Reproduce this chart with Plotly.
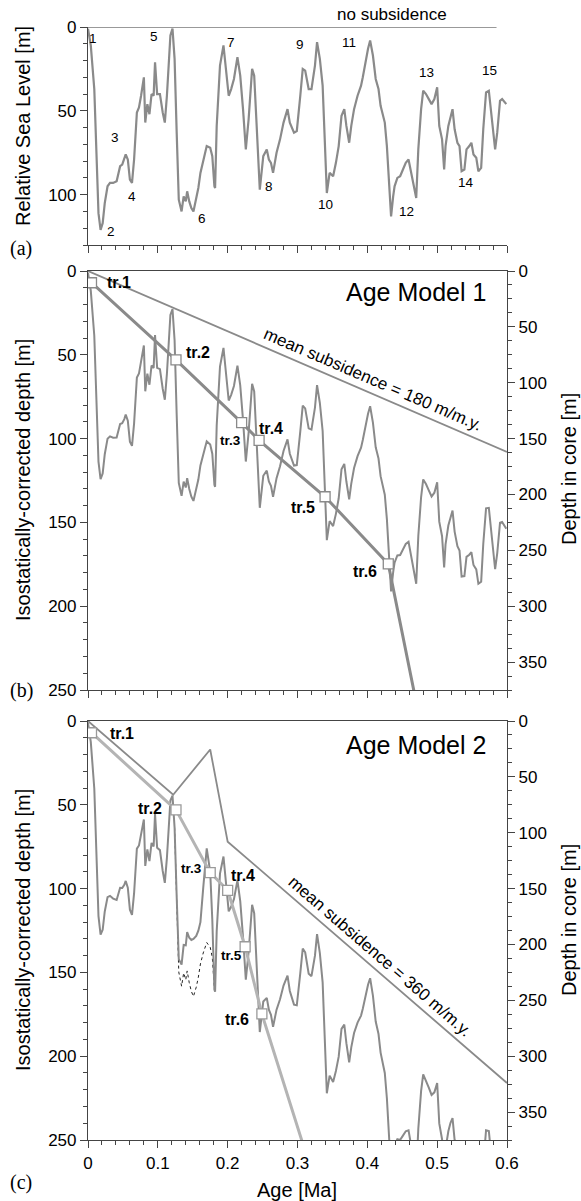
import numpy as np
import plotly.graph_objects as go

# ---------------- data ----------------
sl_age = [0, 0.004, 0.009, 0.012, 0.015, 0.018, 0.021, 0.024, 0.028, 0.0315, 0.036, 0.041, 0.044, 0.046,
          0.049, 0.052, 0.054, 0.057, 0.060, 0.063, 0.066, 0.070, 0.073, 0.076, 0.080, 0.082, 0.085, 0.088,
          0.091, 0.094, 0.096, 0.099, 0.103, 0.107, 0.110, 0.113, 0.116, 0.118, 0.121, 0.124, 0.127, 0.130,
          0.134, 0.137, 0.140, 0.142, 0.145, 0.148, 0.151, 0.155, 0.158, 0.161, 0.165, 0.170, 0.175, 0.178,
          0.181, 0.182, 0.1843, 0.189, 0.194, 0.198, 0.2015, 0.205, 0.209, 0.214, 0.218, 0.222, 0.226, 0.230,
          0.235, 0.238, 0.242, 0.246, 0.251, 0.256, 0.259, 0.262, 0.265, 0.270, 0.275, 0.280, 0.2857, 0.289,
          0.295, 0.299, 0.304, 0.3075, 0.311, 0.316, 0.320, 0.325, 0.328, 0.332, 0.336, 0.339, 0.342, 0.346,
          0.351, 0.355, 0.359, 0.363, 0.367, 0.370, 0.374, 0.377, 0.381, 0.386, 0.391, 0.3935, 0.397, 0.401,
          0.404, 0.408, 0.412, 0.416, 0.419, 0.425, 0.428, 0.431, 0.434, 0.437, 0.439, 0.443, 0.447, 0.451,
          0.455, 0.459, 0.463, 0.467, 0.470, 0.473, 0.477, 0.480, 0.484, 0.488, 0.492, 0.496, 0.500, 0.503,
          0.507, 0.510, 0.512, 0.516, 0.519, 0.522, 0.525, 0.529, 0.532, 0.535, 0.539, 0.542, 0.546, 0.549,
          0.552, 0.556, 0.559, 0.563, 0.566, 0.570, 0.574, 0.578, 0.583, 0.586, 0.590, 0.593, 0.597, 0.599]
sl_level = [1, 11, 37, 79, 111, 121, 117, 105, 95, 93, 93, 92, 87, 83,
            82, 79, 76, 79, 91, 93, 79, 51, 48, 41, 30, 57, 46, 52,
            40, 41, 21, 40, 40, 51, 57, 41, 19, 5, 1, 19, 63, 103,
            110, 101, 104, 98, 104, 108, 110, 103, 96, 87, 79, 71, 72, 77,
            95, 96, 59, 23, 11, 25, 41, 37, 31, 18, 29, 49, 73, 55,
            25, 29, 61, 97, 77, 73, 79, 81, 87, 75, 67, 57, 49, 57,
            63, 62, 41, 25, 26, 37, 37, 23, 9, 19, 35, 71, 99, 87,
            89, 81, 71, 53, 49, 59, 69, 59, 49, 41, 35, 30, 21, 13,
            8, 17, 31, 37, 47, 57, 71, 95, 113, 101, 95, 90, 89, 85,
            81, 79, 87, 95, 102, 73, 49, 38, 40, 43, 46, 43, 36, 59,
            67, 85, 71, 59, 53, 49, 61, 69, 71, 86, 85, 73, 71, 69,
            76, 78, 86, 84, 61, 39, 38, 53, 73, 63, 44, 43, 45, 46]

rate_model1 = 180.0   # m/m.y.
rate_model2 = 360.0   # m/m.y.

# subsidence path used for the age-model-2 curve
m2_sub_age = [0, 0.124, 0.142, 0.151, 0.161, 0.170, 0.175, 0.181, 0.6]
m2_sub_depth = [0, 44.6, 28, 20, 33, 5, 18, 65.2, 216]

nosub_age = [0, 0.585]
nosub_level = [0, 0]
m1_mean_age = [0, 0.6]
m1_mean_depth = [0, 108]
m2_mean_age = [0, 0.122, 0.175, 0.2, 0.6]
m2_mean_depth = [0, 44, 17, 72, 216]

tie_names = ["tr.1", "tr.2", "tr.3", "tr.4", "tr.5", "tr.6"]
tie_depth = [7, 53, 90.5, 101, 134.7, 174.8]
tie_age_m1 = [0.005, 0.126, 0.220, 0.245, 0.3395, 0.430]
tie_age_m2 = [0.005, 0.126, 0.175, 0.200, 0.225, 0.249]
m1_ext = (0.48, 278)
m2_ext = (0.32, 268.6)

peak_names = [str(i) for i in range(1, 16)]
peak_age = [0.0067, 0.033, 0.0387, 0.0626, 0.0946, 0.163, 0.2049, 0.2597, 0.3037, 0.3395, 0.3744, 0.4556, 0.4842, 0.5415, 0.575]
peak_level = [6.9, 122, 65.9, 101, 5.7, 114.3, 9.3, 95.3, 10.3, 105.9, 9, 110, 27.2, 93, 25.8]

tie_lab_m1 = [(0.045, 7, 16), (0.158, 48.7, 16), (0.2034, 101, 13.5), (0.2617, 93.9, 16), (0.3085, 141, 16), (0.3968, 179, 16)]
tie_lab_m2 = [(0.048, 7.4, 16), (0.0888, 52, 16), (0.1485, 88, 13.5), (0.2216, 92.4, 16), (0.2058, 140, 13.5), (0.214, 178.3, 16)]

# ---------------- derived ----------------
age = np.array(sl_age)
lev = np.array(sl_level)
depth_m1 = lev + rate_model1 * age
depth_m2 = lev + np.interp(age, m2_sub_age, m2_sub_depth)
mask = (age >= 0.124) & (age <= 0.181)
depth_m2_const = lev[mask] + rate_model2 * age[mask]

CURVE = "#8a8a8a"
AX = "#444444"
FONT = "Liberation Sans, Arial, sans-serif"

fig = go.Figure()
# panel a
fig.add_trace(go.Scatter(x=nosub_age, y=nosub_level, mode="lines", line=dict(color="#999999", width=2), xaxis="x", yaxis="y"))
fig.add_trace(go.Scatter(x=age, y=lev, mode="lines", line=dict(color=CURVE, width=2.2), xaxis="x", yaxis="y"))
# panel b
fig.add_trace(go.Scatter(x=m1_mean_age, y=m1_mean_depth, mode="lines", line=dict(color=CURVE, width=1.8), xaxis="x2", yaxis="y2"))
fig.add_trace(go.Scatter(x=age, y=depth_m1, mode="lines", line=dict(color=CURVE, width=2), xaxis="x2", yaxis="y2"))
fig.add_trace(go.Scatter(x=tie_age_m1 + [m1_ext[0]], y=tie_depth + [m1_ext[1]], mode="lines",
                         line=dict(color="#8a8a8a", width=3), xaxis="x2", yaxis="y2"))
fig.add_trace(go.Scatter(x=tie_age_m1, y=tie_depth, mode="markers",
                         marker=dict(symbol="square", size=10, color="white", line=dict(color="#8a8a8a", width=1.3)),
                         xaxis="x2", yaxis="y2"))
fig.add_trace(go.Scatter(x=[], y=[], xaxis="x2", yaxis="y4"))
# panel c
fig.add_trace(go.Scatter(x=m2_mean_age, y=m2_mean_depth, mode="lines", line=dict(color=CURVE, width=1.8), xaxis="x3", yaxis="y3"))
fig.add_trace(go.Scatter(x=age[mask], y=depth_m2_const, mode="lines", line=dict(color="#222222", width=1, dash="dot"), xaxis="x3", yaxis="y3"))
fig.add_trace(go.Scatter(x=age, y=depth_m2, mode="lines", line=dict(color=CURVE, width=2), xaxis="x3", yaxis="y3"))
fig.add_trace(go.Scatter(x=tie_age_m2 + [m2_ext[0]], y=tie_depth + [m2_ext[1]], mode="lines",
                         line=dict(color="#b4b4b4", width=3), xaxis="x3", yaxis="y3"))
fig.add_trace(go.Scatter(x=tie_age_m2, y=tie_depth, mode="markers",
                         marker=dict(symbol="square", size=10, color="white", line=dict(color="#9a9a9a", width=1.3)),
                         xaxis="x3", yaxis="y3"))
fig.add_trace(go.Scatter(x=[], y=[], xaxis="x3", yaxis="y5"))

# plot area in the window: x 88..507, y 27..1140
H = 1113.0
def dom(top_px, bot_px):
    return [(1140 - bot_px) / H, (1140 - top_px) / H]

xcommon = dict(range=[0, 0.6], showline=True, linecolor=AX, linewidth=1.2, ticks="outside", ticklen=7,
               tickcolor=AX, tickwidth=1.2, dtick=0.1, tick0=0, showgrid=False, zeroline=False,
               minor=dict(dtick=0.02, ticklen=4, ticks="outside", tickcolor=AX, showgrid=False),
               tickfont=dict(size=17, color="black"))
ycommon = dict(showline=True, linecolor=AX, linewidth=1.2, ticks="outside", ticklen=7, tickcolor=AX, tickwidth=1.2,
               dtick=50, tick0=0, showgrid=False, zeroline=False,
               minor=dict(dtick=10, ticklen=4, ticks="outside", tickcolor=AX, showgrid=False),
               tickfont=dict(size=17, color="black"))
yright = dict(ycommon)
yright.update(range=[375, 0], side="right", minor=dict(dtick=12.5, ticklen=4, ticks="outside", tickcolor=AX, showgrid=False))

fig.update_layout(
    width=581, height=1201, showlegend=False, plot_bgcolor="white", paper_bgcolor="white",
    margin=dict(l=88, r=74, t=27, b=61),
    font=dict(family=FONT, color="black"),
    xaxis=dict(xcommon, anchor="y", showticklabels=False),
    yaxis=dict(ycommon, domain=dom(27, 245), range=[130, 0], anchor="x"),
    xaxis2=dict(xcommon, anchor="y2", showticklabels=False, mirror=True),
    yaxis2=dict(ycommon, domain=dom(271, 690), range=[250, 0], anchor="x2"),
    yaxis4=dict(yright, overlaying="y2", anchor="x2"),
    xaxis3=dict(xcommon, anchor="y3", mirror=True),
    yaxis3=dict(ycommon, domain=dom(721, 1140), range=[250, 0], anchor="x3"),
    yaxis5=dict(yright, overlaying="y3", anchor="x3"),
)

ann = []
def px_x(px):
    return (px - 88) / 419.0
def px_y(py):
    return (1140 - py) / H
def A(**kw):
    kw.setdefault("xanchor", "center")
    kw.setdefault("yanchor", "middle")
    kw.setdefault("showarrow", False)
    ann.append(kw)

for n, a_, l_ in zip(peak_names, peak_age, peak_level):
    A(x=a_, y=l_, xref="x", yref="y", text=n, font=dict(size=13.5))
A(x=0.435, y=0, xref="x", yref="y", yshift=12.7, text="no subsidence", font=dict(size=17))

for n, (a_, d_, s_) in zip(tie_names, tie_lab_m1):
    A(x=a_, y=d_, xref="x2", yref="y2", text="<b>%s</b>" % n, font=dict(size=s_))
for n, (a_, d_, s_) in zip(tie_names, tie_lab_m2):
    A(x=a_, y=d_, xref="x3", yref="y3", text="<b>%s</b>" % n, font=dict(size=s_))

A(x=0.470, y=12.3, xref="x2", yref="y2", text="Age Model 1", font=dict(size=25))
A(x=0.470, y=14.4, xref="x3", yref="y3", text="Age Model 2", font=dict(size=25))
A(x=0.4076, y=65, xref="x2", yref="y2", text="mean subsidence = 180 m/m.y.", textangle=23.3, font=dict(size=17))
A(x=0.418, y=140.6, xref="x3", yref="y3", text="mean subsidence = 360 m/m.y.", textangle=40.8, font=dict(size=17))

# axis titles
A(x=px_x(23), y=px_y(126), xref="paper", yref="paper", text="Relative Sea Level [m]", textangle=-90, font=dict(size=20))
A(x=px_x(23), y=px_y(480), xref="paper", yref="paper", text="Isostatically-corrected depth [m]", textangle=-90, font=dict(size=20))
A(x=px_x(23), y=px_y(930), xref="paper", yref="paper", text="Isostatically-corrected depth [m]", textangle=-90, font=dict(size=20))
A(x=px_x(569), y=px_y(469), xref="paper", yref="paper", text="Depth in core [m]", textangle=-90, font=dict(size=20))
A(x=px_x(569), y=px_y(920), xref="paper", yref="paper", text="Depth in core [m]", textangle=-90, font=dict(size=20))
A(x=px_x(297), y=px_y(1190), xref="paper", yref="paper", text="Age [Ma]", font=dict(size=20))
for t, py in [("(a)", 248), ("(b)", 690), ("(c)", 1183)]:
    A(x=px_x(21), y=px_y(py), xref="paper", yref="paper", text=t,
      font=dict(size=20, family="Liberation Serif, Times New Roman, serif"))

fig.update_layout(annotations=ann)
fig.write_html("out.html", config={"displayModeBar": False},
               post_script="document.body.style.margin='0px';")
